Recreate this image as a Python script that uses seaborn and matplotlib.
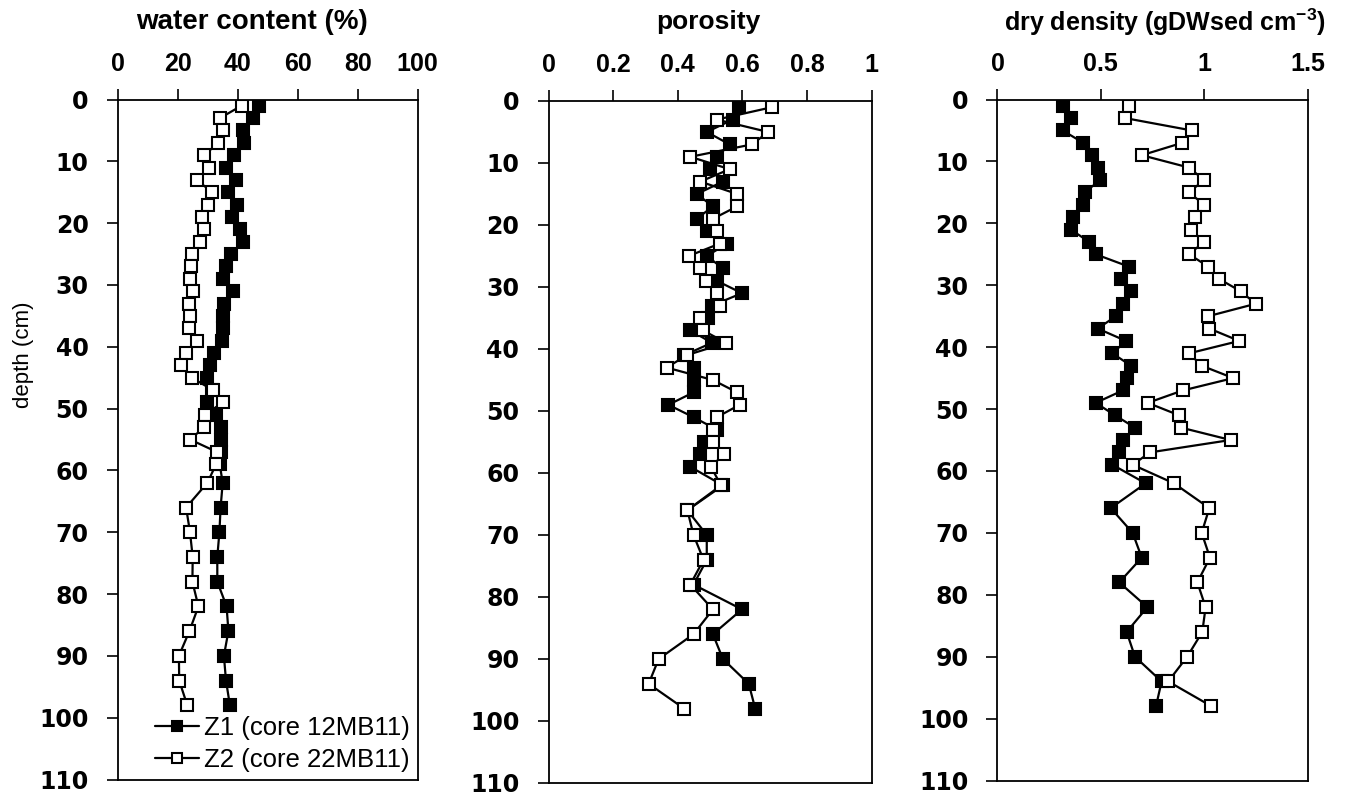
import matplotlib
matplotlib.use("Agg")
import matplotlib.pyplot as plt
import seaborn as sns
import pandas as pd
import numpy as np

sns.set_theme(style="white")
plt.rcParams['font.family'] = ['Liberation Sans', 'DejaVu Sans']
plt.rcParams['text.color'] = 'black'
plt.rcParams['mathtext.fontset'] = 'custom'
plt.rcParams['mathtext.rm'] = 'Liberation Sans:bold'
plt.rcParams['mathtext.bf'] = 'Liberation Sans:bold'

# ---------------- data ----------------
depth = [1, 3, 5, 7, 9, 11, 13, 15, 17, 19, 21, 23, 25, 27, 29, 31, 33, 35, 37, 39,
         41, 43, 45, 47, 49, 51, 53, 55, 57, 59, 62, 66, 70, 74, 78, 82, 86, 90, 94, 98]

water_z1 = [47.2, 45.2, 41.7, 42.2, 38.8, 36.1, 39.3, 36.7, 39.7, 38.2,
            40.8, 41.9, 37.7, 36.1, 35.2, 38.5, 35.5, 35.0, 35.0, 34.7,
            32.2, 30.8, 29.9, 31.5, 29.7, 32.8, 34.3, 34.3, 34.3, 34.0,
            35.0, 34.3, 33.9, 33.2, 33.2, 36.3, 36.9, 35.4, 36.1, 37.4]
water_z2 = [41.3, 34.1, 35.0, 33.5, 28.9, 30.5, 26.3, 31.5, 30.2, 28.2,
            28.9, 27.4, 24.7, 24.3, 24.1, 25.2, 23.9, 24.1, 23.9, 26.5,
            22.8, 21.1, 24.7, 31.7, 35.0, 29.1, 28.9, 24.1, 33.0, 32.8,
            29.9, 22.8, 24.1, 25.0, 24.9, 26.9, 23.9, 20.4, 20.5, 23.2]

poro_z1 = [0.589, 0.570, 0.490, 0.561, 0.521, 0.501, 0.540, 0.459, 0.509, 0.459,
           0.490, 0.553, 0.490, 0.540, 0.521, 0.599, 0.506, 0.493, 0.439, 0.506,
           0.420, 0.449, 0.449, 0.449, 0.371, 0.449, 0.521, 0.480, 0.470, 0.439,
           0.540, 0.430, 0.490, 0.490, 0.449, 0.599, 0.509, 0.540, 0.620, 0.640]
poro_z2 = [0.692, 0.521, 0.680, 0.630, 0.439, 0.561, 0.470, 0.584, 0.584, 0.509,
           0.521, 0.530, 0.434, 0.470, 0.488, 0.521, 0.532, 0.470, 0.478, 0.550,
           0.428, 0.366, 0.509, 0.584, 0.592, 0.521, 0.509, 0.509, 0.542, 0.503,
           0.534, 0.430, 0.449, 0.480, 0.439, 0.509, 0.449, 0.341, 0.310, 0.420]

dens_z1 = [0.315, 0.354, 0.315, 0.415, 0.456, 0.488, 0.496, 0.423, 0.415, 0.367,
           0.354, 0.444, 0.475, 0.636, 0.597, 0.646, 0.606, 0.573, 0.485, 0.622,
           0.556, 0.646, 0.625, 0.606, 0.475, 0.568, 0.665, 0.606, 0.589, 0.556,
           0.717, 0.548, 0.654, 0.698, 0.589, 0.725, 0.625, 0.665, 0.794, 0.767]
dens_z2 = [0.638, 0.617, 0.940, 0.894, 0.698, 0.927, 0.999, 0.927, 0.999, 0.956,
           0.936, 0.999, 0.927, 1.020, 1.073, 1.178, 1.249, 1.020, 1.025, 1.170,
           0.927, 0.988, 1.141, 0.896, 0.727, 0.878, 0.888, 1.128, 0.738, 0.654,
           0.854, 1.025, 0.988, 1.028, 0.967, 1.007, 0.991, 0.918, 0.826, 1.035]

cores = ["Z1 (core 12MB11)", "Z2 (core 22MB11)"]
panel_titles = ["water content (%)", "porosity",
                r"dry density (gDWsed cm$^{\mathrm{-3}}$)"]
x_limits = [(0, 100), (0, 1), (0, 1.5)]
x_ticks = [[0, 20, 40, 60, 80, 100], [0, 0.2, 0.4, 0.6, 0.8, 1], [0, 0.5, 1, 1.5]]
x_ticklabels = [["0", "20", "40", "60", "80", "100"],
                ["0", "0.2", "0.4", "0.6", "0.8", "1"],
                ["0", "0.5", "1", "1.5"]]
y_ticks = [0, 10, 20, 30, 40, 50, 60, 70, 80, 90, 100, 110]

series = [(water_z1, water_z2), (poro_z1, poro_z2), (dens_z1, dens_z2)]

# ---------------- figure ----------------
fig = plt.figure(figsize=(13.48, 7.96), dpi=100)
W, H = 1348, 796
boxes = [(117.7, 99.5, 417.7, 779.5),
         (548.5, 101.0, 871.5, 783.0),
         (997.5, 99.5, 1307.5, 780.5)]
title_x = [252, 708, 1165]
title_size = [20, 19, 18]

bold = dict(family=['Liberation Sans', 'DejaVu Sans'], weight='bold')

for i, (box, (s1, s2)) in enumerate(zip(boxes, series)):
    l, t, r, b = box
    ax = fig.add_axes([l / W, 1 - b / H, (r - l) / W, (b - t) / H])
    df = pd.DataFrame({"depth": depth * 2,
                       "value": list(s1) + list(s2),
                       "core": [cores[0]] * len(depth) + [cores[1]] * len(depth)})
    for core, fc in zip(cores, ["black", "white"]):
        sub = df[df["core"] == core]
        sns.lineplot(data=sub, x="value", y="depth", orient="y", sort=False,
                     ax=ax, color="black", linewidth=1.6, marker="s",
                     markersize=8.5, markerfacecolor=fc, markeredgecolor="black",
                     markeredgewidth=1.5, label=core, legend=False)
    ax.set_xlim(*x_limits[i])
    ax.set_ylim(110, 0)
    ax.set_xticks(x_ticks[i])
    ax.set_xticklabels(x_ticklabels[i], fontsize=18, **bold)
    ax.set_yticks(y_ticks)
    ax.set_yticklabels([str(v) for v in y_ticks], fontsize=17,
                       family=['DejaVu Sans'], weight='bold')
    ax.xaxis.tick_top()
    ax.tick_params(axis='x', which='both', direction='out', length=8, width=1.2,
                   top=True, bottom=False, pad=9, colors='black')
    ax.tick_params(axis='y', which='both', direction='out', length=8, width=1.2,
                   left=True, right=False, pad=13, colors='black')
    for sp in ax.spines.values():
        sp.set_visible(True)
        sp.set_color('black')
        sp.set_linewidth(1.3)
    ax.set_xlabel("")
    ax.set_ylabel("")
    ax.grid(False)
    fig.text(title_x[i] / W, 1 - 22 / H, panel_titles[i], ha='center', va='center',
             fontsize=title_size[i], color='black', **bold)
    if i == 0:
        ax.set_ylabel("depth (cm)", fontsize=16, color='black')
        ax.yaxis.set_label_coords(-0.28, 0.625)
        handles, labels = ax.get_legend_handles_labels()
        leg = ax.legend(handles, labels, loc='lower right', frameon=False,
                        fontsize=18.5, handlelength=1.7, handletextpad=0.2,
                        labelspacing=0.3, borderaxespad=0.1, borderpad=0.2,
                        markerscale=0.8)
        for txt in leg.get_texts():
            txt.set_color('black')

fig.savefig("out.png", dpi=100)
